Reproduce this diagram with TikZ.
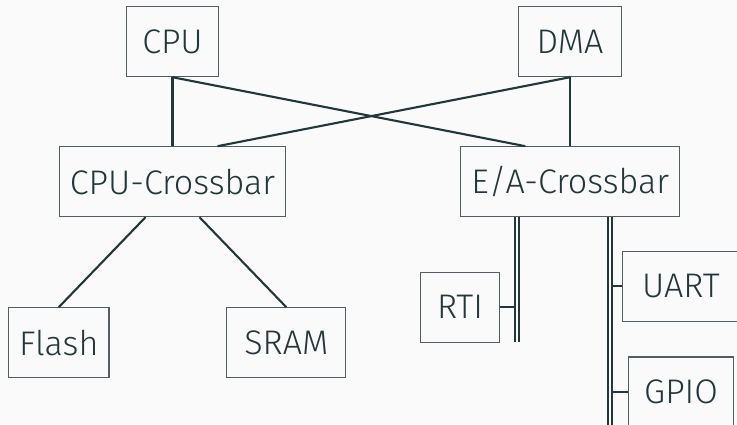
\documentclass[tikz,border=0pt]{standalone}
\usepackage{fontspec}
\setmainfont{Fira Sans}[UprightFont=* Light]
\usetikzlibrary{calc}
\definecolor{mDarkTeal}{HTML}{23373B}
\definecolor{mBg}{HTML}{FAFAFA}

\begin{document}
\begin{tikzpicture}[x=0.01cm,y=-0.01cm,
    unit/.style={draw=mDarkTeal!80,line width=0.3pt,text=mDarkTeal,
      minimum height=19.9pt,inner xsep=3pt,
      font=\fontsize{9.7pt}{12pt}\selectfont},
    link/.style={draw=mDarkTeal,line width=0.6pt},
    bus/.style={draw=mDarkTeal,line width=0.4pt,double=mBg,double distance=0.75pt}]
  \fill[mBg] (0,0) rectangle (737,424);
  \useasboundingbox (0,0) rectangle (737,424);
  \clip (0,0) rectangle (737,424);
  \node[unit,minimum width=26.1pt] (cpu) at (172.5,41.7) {CPU};
  \node[unit,minimum width=29.1pt] (dma) at (570,41.7) {DMA};
  \node[unit] (cpux) at (172.5,181.7) {CPU-Crossbar};
  \node[unit] (eax) at (570.3,181.7) {E/A-Crossbar};
  \node[unit] (flash) at (58.8,342.7) {Flash};
  \node[unit,minimum width=33.8pt] (sram) at (286.3,342.7) {SRAM};
  \node[unit,minimum width=22.4pt] (rti) at (460,307.3) {RTI};
  \node[unit,minimum width=33pt,anchor=west] (uart) at (622.3,286.3) {UART};
  \node[unit,minimum width=29.7pt,anchor=west] (gpio) at (628.3,392) {GPIO};
  \coordinate (rtibus) at (517,341.7);
  \coordinate (iobus) at (610,440);
  \draw[link] (cpu.south) -- (cpu.south |- cpux.north);
  \draw[link] (cpu.south) -- ($(eax.north)+(-45,0)$);
  \draw[link] (dma.south) -- (dma.south |- eax.north);
  \draw[link] (dma.south) -- ($(cpux.north)+(45,0)$);
  \draw[link] ($(cpux.south)+(-27,0)$) -- (flash.north);
  \draw[link] ($(cpux.south)+(27,0)$) -- (sram.north);
  \draw[link] (rti.east) -- (rti.east -| rtibus);
  \draw[link] (uart.west) -- (uart.west -| iobus);
  \draw[link] (gpio.west) -- (gpio.west -| iobus);
  \draw[bus] (eax.south -| rtibus) -- (rtibus);
  \draw[bus] (eax.south -| iobus) -- (iobus);
\end{tikzpicture}
\end{document}
